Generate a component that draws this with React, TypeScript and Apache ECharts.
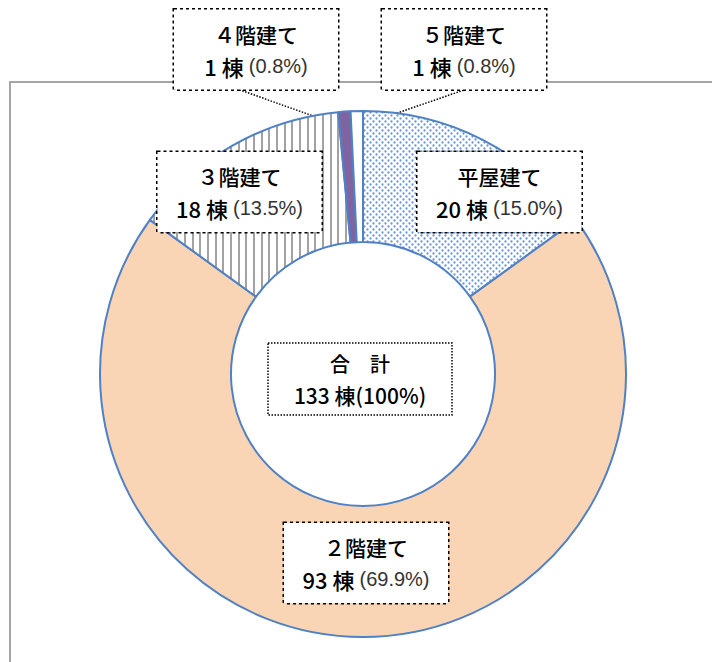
import React, { useEffect, useRef } from 'react';
import * as echarts from 'echarts';

const categories = ['平屋建て', '２階建て', '３階建て', '４階建て', '５階建て'];
const counts = [20, 93, 18, 1, 1];
const unit = '棟';
const totalName = '合　計';

const CX = 363;
const CY = 374;
const labelCenters: number[][] = [[499.5, 192], [366, 563], [239.5, 192], [256, 49.5], [464, 49.5]];
const leaderEnds: (number[] | null)[] = [null, null, null, [240, 90], [464, 90]];

const JP = '"Noto Sans CJK JP", "Noto Sans", sans-serif';
const PCT = '"Liberation Sans Narrow", "Liberation Sans", Arial, sans-serif';

function dotPattern(): HTMLCanvasElement {
  const c = document.createElement('canvas');
  c.width = 6; c.height = 6;
  const g = c.getContext('2d')!;
  g.fillStyle = '#ffffff'; g.fillRect(0, 0, 6, 6);
  g.fillStyle = '#6E95D6';
  [[1.5, 1.5], [4.5, 4.5]].forEach(([x, y]) => { g.beginPath(); g.arc(x, y, 1.15, 0, Math.PI * 2); g.fill(); });
  return c;
}
function stripePattern(): HTMLCanvasElement {
  const c = document.createElement('canvas');
  c.width = 23; c.height = 4;
  const g = c.getContext('2d')!;
  g.fillStyle = '#ffffff'; g.fillRect(0, 0, 23, 4);
  g.fillStyle = '#A2A2A2';
  [0, 8, 15].forEach((x) => g.fillRect(x, 0, 2, 4));
  return c;
}

export default function App() {
  const ref = useRef<HTMLDivElement>(null);
  useEffect(() => {
    document.body.style.margin = '0';
    const chart = echarts.init(ref.current!, undefined, { renderer: 'svg' });
    const total = counts.reduce((a, b) => a + b, 0);
    const fills: any[] = [
      { image: dotPattern(), repeat: 'repeat' },
      '#FAD5B5',
      { image: stripePattern(), repeat: 'repeat' },
      '#8064A2',
      '#FFFFFF',
    ];
    const data = categories.map((name, i) => ({
      name,
      value: counts[i],
      itemStyle: { color: fills[i] },
      labelLine: { show: leaderEnds[i] != null },
    }));
    chart.setOption({
      animation: false,
      graphic: [
        {
          type: 'polyline',
          z: 0,
          shape: { points: [[10, 700], [10, 82], [740, 82]] },
          style: { stroke: '#A5A5A5', lineWidth: 2, fill: 'none' },
        },
        {
          type: 'group',
          z: 100,
          children: [
            {
              type: 'rect',
              shape: { x: 268, y: 343, width: 184, height: 72 },
              style: { fill: '#fff', stroke: '#000', lineWidth: 1.5, lineDash: [1.5, 1.5] },
            },
            {
              type: 'text',
              x: 360,
              y: 379,
              style: {
                text: `{a|${totalName}}\n{b|${total} ${unit}(100%)}`,
                align: 'center',
                verticalAlign: 'middle',
                rich: {
                  a: { fontSize: 20, lineHeight: 32, fontFamily: JP, fontWeight: 500, fill: '#000', align: 'center' },
                  b: { fontSize: 21, lineHeight: 32, fontFamily: JP, fontWeight: 500, fill: '#000', align: 'center' },
                },
              },
            },
          ],
        },
      ],
      series: [
        {
          type: 'pie',
          center: [CX, CY],
          radius: [132, 263],
          startAngle: 90,
          clockwise: true,
          avoidLabelOverlap: false,
          itemStyle: { borderColor: '#4F81C4', borderWidth: 2 },
          emphasis: { disabled: true },
          label: {
            show: true,
            position: 'outside',
            formatter: (p: any) =>
              `{a|${p.name}}\n{b|${p.value} ${unit}}{c|(${((p.value / total) * 100).toFixed(1)}%)}`,
            backgroundColor: '#fff',
            borderColor: '#000',
            borderType: 'dotted',
            borderWidth: 1.5,
            width: 164,
            padding: [8, 0],
            align: 'center',
            rich: {
              a: { fontSize: 21, lineHeight: 32, fontFamily: JP, fontWeight: 500, color: '#000', align: 'center' },
              b: { fontSize: 22, lineHeight: 32, fontFamily: JP, fontWeight: 500, color: '#000', align: 'center' },
              c: { fontSize: 20, lineHeight: 32, fontFamily: PCT, color: '#333', align: 'center', padding: [0, 0, 0, 5] },
            },
          },
          labelLine: {
            show: false,
            lineStyle: { color: '#000', width: 1.5, type: 'dotted' },
          },
          labelLayout: (p: any) => {
            const i = p.dataIndex;
            const res: any = {
              x: labelCenters[i][0],
              y: labelCenters[i][1],
              align: 'center',
              verticalAlign: 'middle',
            };
            const end = leaderEnds[i];
            if (end && p.labelLinePoints) {
              const p0 = p.labelLinePoints[0];
              const s = [CX + (p0[0] - CX) * 0.94, CY + (p0[1] - CY) * 0.94];
              const m = [(s[0] + end[0]) / 2, (s[1] + end[1]) / 2];
              res.labelLinePoints = [s, m, end];
            }
            return res;
          },
          data,
        },
      ],
    });
    return () => chart.dispose();
  }, []);
  return <div ref={ref} style={{ position: 'absolute', left: 0, top: 0, width: 712, height: 662 }} />;
}
